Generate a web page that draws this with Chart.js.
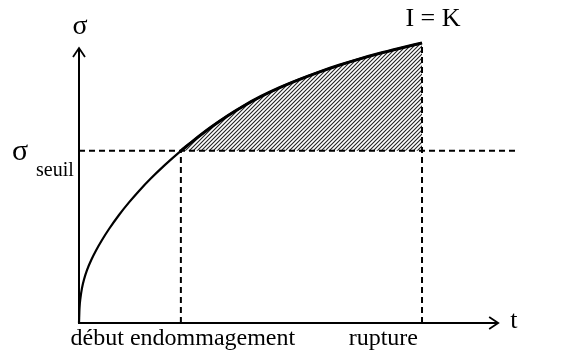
<!DOCTYPE html>
<html>
<head>
<meta charset="utf-8">
<script src="https://cdn.jsdelivr.net/npm/chart.js@4/dist/chart.umd.min.js"></script>
<style>
  html, body { margin: 0; padding: 0; background: #fff; }
  #wrap { width: 579px; height: 363px; }
</style>
</head>
<body>
<div id="wrap"><canvas id="c" width="579" height="363"></canvas></div>
<script>
// Stress σ versus time t (normalised: rupture at t = 1, σ(rupture) = K = 1)
const tValues = [0, 0.0015, 0.0044, 0.0087, 0.0146, 0.0233, 0.0350, 0.0496, 0.0671, 0.0875,
                 0.1166, 0.1458, 0.1749, 0.2099, 0.2507, 0.297, 0.3382, 0.3848, 0.4315, 0.4810,
                 0.5306, 0.5831, 0.6414, 0.6997, 0.7580, 0.8163, 0.8746, 0.9329, 1.0];
const sigmaValues = [0, 0.0538, 0.0909, 0.1246, 0.1554, 0.1890, 0.2233, 0.2590, 0.2963, 0.3357,
                     0.3858, 0.4307, 0.4717, 0.5167, 0.5647, 0.615, 0.6558, 0.6992, 0.7386, 0.7760,
                     0.8091, 0.8396, 0.8693, 0.8962, 0.9205, 0.9425, 0.9624, 0.9804, 1.0];

const sigmaSeuil = 0.615;     // damage threshold
const tDebut = 0.297;         // onset of damage
const tRupture = 1.0;         // failure
const tAxisEnd = 1.222;       // end of the time axis arrow
const sigmaAxisEnd = 0.982;   // end of the stress axis arrow
const tMax = 1.274;           // right edge of the plotting range
const sigmaMax = 1.0;

const labels = {
  sigma: 'σ',
  seuilSub: 'seuil',
  ik: 'I = K',
  t: 't',
  debut: 'début endommagement',
  rupture: 'rupture'
};

const curve = tValues.map((t, i) => ({ x: t, y: sigmaValues[i] }));
const damaged = curve.filter(p => p.x >= tDebut - 1e-9);

// diagonal hatching for the damaged zone
function hatchPattern() {
  const s = 4;
  const pc = document.createElement('canvas');
  pc.width = s; pc.height = s;
  const g = pc.getContext('2d');
  g.strokeStyle = '#222';
  g.lineWidth = 1.1;
  g.beginPath();
  g.moveTo(-1, s + 1); g.lineTo(s + 1, -1);
  g.moveTo(-1, 1); g.lineTo(1, -1);
  g.moveTo(s - 1, s + 1); g.lineTo(s + 1, s - 1);
  g.stroke();
  return g.createPattern(pc, 'repeat');
}

const dash = [6, 4];

const axesAndText = {
  id: 'axesAndText',
  afterDatasetsDraw(chart) {
    const ctx = chart.ctx;
    const xs = chart.scales.x, ys = chart.scales.y;
    const x0 = xs.getPixelForValue(0), y0 = ys.getPixelForValue(0);
    const xEnd = xs.getPixelForValue(tAxisEnd);
    const yEnd = ys.getPixelForValue(sigmaAxisEnd);
    ctx.save();
    ctx.strokeStyle = '#000';
    ctx.lineWidth = 2;
    ctx.lineCap = 'butt';
    ctx.beginPath();
    ctx.moveTo(x0, y0 + 1); ctx.lineTo(x0, yEnd + 1);
    ctx.moveTo(x0 - 1, y0); ctx.lineTo(xEnd - 1, y0);
    ctx.stroke();
    // open arrow heads
    ctx.lineWidth = 1.8;
    ctx.lineJoin = 'miter';
    ctx.beginPath();
    ctx.moveTo(x0 - 6, yEnd + 9); ctx.lineTo(x0, yEnd); ctx.lineTo(x0 + 6, yEnd + 9);
    ctx.moveTo(xEnd - 9, y0 - 6); ctx.lineTo(xEnd, y0); ctx.lineTo(xEnd - 9, y0 + 6);
    ctx.stroke();

    ctx.fillStyle = '#000';
    ctx.textBaseline = 'alphabetic';
    const serif = '"Liberation Serif", "Times New Roman", serif';

    // σ on the stress axis
    ctx.font = '28px ' + serif;
    ctx.textAlign = 'center';
    ctx.fillText(labels.sigma, x0 + 1, yEnd - 14);

    // σ seuil
    const ys0 = ys.getPixelForValue(sigmaSeuil);
    ctx.font = '30px ' + serif;
    ctx.textAlign = 'left';
    ctx.fillText(labels.sigma, 12, ys0 + 9);
    ctx.font = '20px ' + serif;
    ctx.fillText(labels.seuilSub, 36, ys0 + 25);

    // I = K above the failure point
    ctx.font = '26px ' + serif;
    ctx.textAlign = 'center';
    ctx.fillText(labels.ik, xs.getPixelForValue(tRupture) + 11, ys.getPixelForValue(1.0) - 17);

    // t at the end of the time axis
    ctx.font = '26px ' + serif;
    ctx.textAlign = 'left';
    ctx.fillText(labels.t, xEnd + 12, y0 + 5);

    // labels under the time axis
    ctx.font = '24px ' + serif;
    ctx.textAlign = 'center';
    ctx.fillText(labels.debut, xs.getPixelForValue(tDebut) + 2, y0 + 22);
    ctx.textAlign = 'right';
    ctx.fillText(labels.rupture, xs.getPixelForValue(tRupture) - 4, y0 + 22);
    ctx.restore();
  }
};

const dashed = (points) => ({
  data: points,
  showLine: true,
  borderColor: '#000',
  borderWidth: 2,
  borderDash: dash,
  pointRadius: 0,
  clip: false,
  order: 3
});

new Chart(document.getElementById('c'), {
  type: 'scatter',
  data: {
    datasets: [
      {
        // hatched zone between the curve and the threshold, with a heavier edge
        data: damaged,
        showLine: true,
        cubicInterpolationMode: 'monotone',
        borderWidth: 3,
        borderColor: '#000',
        pointRadius: 0,
        backgroundColor: hatchPattern(),
        fill: { value: sigmaSeuil },
        clip: false,
        order: 5
      },
      dashed([{ x: 0, y: sigmaSeuil }, { x: tMax, y: sigmaSeuil }]),
      dashed([{ x: tDebut, y: 0 }, { x: tDebut, y: sigmaSeuil }]),
      dashed([{ x: tRupture, y: 0 }, { x: tRupture, y: 1.0 }]),
      {
        // σ(t)
        data: curve,
        showLine: true,
        cubicInterpolationMode: 'monotone',
        borderColor: '#000',
        borderWidth: 2.2,
        pointRadius: 0,
        clip: false,
        order: 1
      }
    ]
  },
  options: {
    responsive: false,
    animation: false,
    events: [],
    layout: { padding: { left: 79, right: 63, top: 43, bottom: 40 } },
    plugins: { legend: { display: false }, tooltip: { enabled: false } },
    scales: {
      x: { type: 'linear', min: 0, max: tMax, display: false },
      y: { type: 'linear', min: 0, max: sigmaMax, display: false }
    }
  },
  plugins: [axesAndText]
});
</script>
</body>
</html>
